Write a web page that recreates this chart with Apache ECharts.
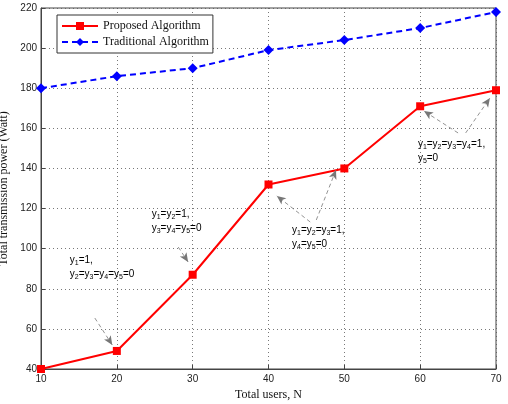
<!DOCTYPE html>
<html>
<head>
<meta charset="UTF-8">
<script src="https://cdn.jsdelivr.net/npm/echarts@6/dist/echarts.min.js"></script>
<style>
  * { margin: 0; padding: 0; }
  html, body { width: 100%; height: 100%; background: #fff; }
  #chart { width: 508px; height: 404px; }
</style>
</head>
<body>
<div id="chart"></div>
<script>
const users = [10, 20, 30, 40, 50, 60, 70];
const proposed = [40, 49, 87, 132, 140, 171, 179];
const traditional = [180, 186, 190, 199, 204, 210, 218];

// annotation texts: [x, y, lines]; each line is a list of [base, subscript]
const notes = [
  [13.8, 97.8, [[['y', '1'], ['=1,', '']], [['y', '2'], ['=y', '3'], ['=y', '4'], ['=y', '5'], ['=0', '']]]],
  [24.6, 120.8, [[['y', '1'], ['=y', '2'], ['=1,', '']], [['y', '3'], ['=y', '4'], ['=y', '5'], ['=0', '']]]],
  [43.1, 112.8, [[['y', '1'], ['=y', '2'], ['=y', '3'], ['=1,', '']], [['y', '4'], ['=y', '5'], ['=0', '']]]],
  [59.7, 155.7, [[['y', '1'], ['=y', '2'], ['=y', '3'], ['=y', '4'], ['=1,', '']], [['y', '5'], ['=0', '']]]]
];
// arrows: [x1, y1, x2, y2]
const arrows = [
  [17.1, 65.4, 19.4, 52],
  [28.1, 100.8, 29.4, 93.4],
  [45.5, 113.3, 41.1, 126.3],
  [46.3, 114.3, 48.9, 139.2],
  [65.0, 157.7, 60.5, 168.6],
  [66.0, 157.7, 69.2, 175.1]
];

const chart = echarts.init(document.getElementById('chart'));
const serif = 'Liberation Serif';
const dotted = { show: true, lineStyle: { color: '#555', type: [1, 3], width: 0.8 } };

chart.setOption({
  animation: false,
  backgroundColor: '#fff',
  grid: { left: 41, right: 12, top: 8, bottom: 35, outerBoundsMode: 'none', containLabel: false,
    show: true, borderColor: '#444', borderWidth: 1 },
  legend: {
    left: 57, top: 15, orient: 'vertical', itemGap: 4, itemWidth: 36, itemHeight: 10,
    padding: [5, 4, 5, 4], borderColor: '#333', borderWidth: 1, backgroundColor: '#fff',
    textStyle: { fontFamily: serif, fontSize: 12, color: '#111' },
    data: ['Proposed Algorithm', 'Traditional Algorithm']
  },
  xAxis: {
    type: 'value', min: 10, max: 70, interval: 10,
    name: 'Total users, N', nameLocation: 'middle', nameGap: 20,
    nameTextStyle: { fontFamily: serif, fontSize: 12, color: '#111' },
    axisLine: { lineStyle: { color: '#444' } },
    axisTick: { inside: true, length: 4, lineStyle: { color: '#444' } },
    axisLabel: { fontFamily: 'Liberation Sans', fontSize: 10, color: '#222', margin: 5 },
    splitLine: dotted
  },
  yAxis: {
    type: 'value', min: 40, max: 220, interval: 20,
    name: 'Total transmission power (Watt)', nameLocation: 'middle', nameGap: 27,
    nameTextStyle: { fontFamily: serif, fontSize: 12, color: '#111' },
    axisLine: { lineStyle: { color: '#444' } },
    axisTick: { inside: true, length: 4, lineStyle: { color: '#444' } },
    axisLabel: { fontFamily: 'Liberation Sans', fontSize: 10, color: '#222', margin: 4 },
    splitLine: dotted
  },
  series: [
    {
      name: 'Proposed Algorithm', type: 'line',
      data: users.map((u, i) => [u, proposed[i]]),
      symbol: 'rect', symbolSize: 8,
      lineStyle: { color: '#f00', width: 2 }, itemStyle: { color: '#f00' },
      markLine: {
        silent: true, symbol: ['none', 'arrow'], symbolSize: [6, 9],
        label: { show: false },
        lineStyle: { color: '#777', type: [4, 3], width: 0.8 },
        data: arrows.map(a => [{ coord: [a[0], a[1]] }, { coord: [a[2], a[3]] }])
      }
    },
    {
      name: 'Traditional Algorithm', type: 'line',
      data: users.map((u, i) => [u, traditional[i]]),
      symbol: 'diamond', symbolSize: 10,
      lineStyle: { color: '#00f', width: 2, type: [6, 4] }, itemStyle: { color: '#00f' }
    }
  ]
});

const rich = {
  n: { fontFamily: 'Liberation Sans', fontSize: 10, color: '#333' },
  s: { fontFamily: 'Liberation Sans', fontSize: 7, color: '#333', padding: [6, 0, 0, 0] }
};
const fmt = lines => lines.map(l => l.map(p => '{n|' + p[0] + '}' + (p[1] ? '{s|' + p[1] + '}' : '')).join('')).join('\n');

chart.setOption({
  graphic: notes.map(nt => {
    const p = chart.convertToPixel({ gridIndex: 0 }, [nt[0], nt[1]]);
    return {
      type: 'text', left: p[0], top: p[1], silent: true,
      style: { text: fmt(nt[2]), rich: rich, lineHeight: 14 }
    };
  })
});
</script>
</body>
</html>
